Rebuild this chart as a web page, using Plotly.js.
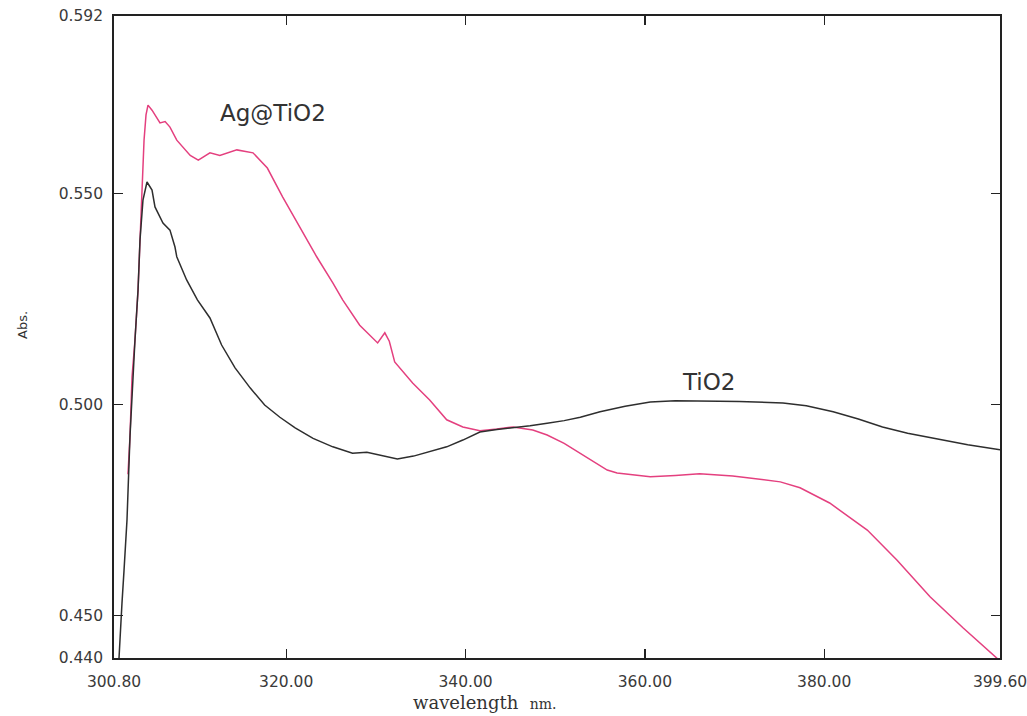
<!DOCTYPE html>
<html>
<head>
<meta charset="utf-8">
<script src="https://cdn.plot.ly/plotly-3.0.1.min.js"></script>
<style>
  html, body { margin: 0; padding: 0; background: #fff; }
  #chart { width: 1027px; height: 716px; }
</style>
</head>
<body>
<div id="chart"></div>
<script>
// UV-Vis absorbance spectra, wavelength in nm
const tio2Wavelength = [
  301.36, 301.47, 301.69, 301.92, 302.25, 302.58, 302.92, 303.14, 303.48, 303.70,
  304.03, 304.48, 305.04, 305.37, 306.26, 307.04, 307.60, 307.80, 308.90, 310.10,
  311.50, 312.80, 314.30, 316.00, 317.60, 319.30, 321.00, 323.00, 325.20, 327.40,
  329.00, 330.80, 332.40, 334.20, 336.00, 337.90, 339.70, 341.60, 343.50, 345.30,
  347.20, 349.10, 351.00, 352.80, 355.00, 357.80, 360.60, 363.40, 366.10, 368.30,
  370.50, 373.00, 375.40, 378.00, 381.00, 383.80, 386.50, 389.30, 392.10, 396.00,
  399.60
];
const tio2Abs = [
  0.4400, 0.4450, 0.4530, 0.4608, 0.4727, 0.4923, 0.5082, 0.5153, 0.5271, 0.5390,
  0.5484, 0.5527, 0.5508, 0.5468, 0.5430, 0.5413, 0.5373, 0.5350, 0.5295, 0.5248,
  0.5205, 0.5141, 0.5087, 0.5039, 0.4999, 0.4970, 0.4945, 0.4920, 0.4900, 0.4885,
  0.4887, 0.4878, 0.4871, 0.4878, 0.4888, 0.4900, 0.4916, 0.4935, 0.4941, 0.4945,
  0.4950, 0.4956, 0.4962, 0.4970, 0.4983, 0.4996, 0.5006, 0.5009, 0.5009, 0.5008,
  0.5007, 0.5006, 0.5004, 0.4997, 0.4983, 0.4966, 0.4947, 0.4932, 0.4920, 0.4905,
  0.4893
];

const agTio2Wavelength = [
  302.36, 302.58, 302.81, 303.14, 303.48, 303.70, 303.92, 304.15, 304.37, 304.59,
  305.04, 305.60, 305.93, 306.50, 307.04, 307.80, 309.30, 310.20, 311.50, 312.60,
  314.50, 316.30, 317.90, 319.60, 321.50, 323.40, 325.20, 326.30, 328.20, 330.20,
  331.00, 331.50, 332.10, 334.10, 336.00, 337.90, 339.70, 341.60, 343.50, 345.30,
  347.50, 349.10, 351.00, 352.80, 355.80, 356.90, 360.60, 363.40, 366.10, 369.80,
  373.60, 375.10, 377.30, 380.60, 384.80, 388.10, 391.80, 395.50, 399.60
];
const agTio2Abs = [
  0.4835, 0.4923, 0.5065, 0.5153, 0.5271, 0.5390, 0.5508, 0.5626, 0.5686, 0.5709,
  0.5697, 0.5679, 0.5667, 0.5670, 0.5657, 0.5626, 0.5590, 0.5579, 0.5596, 0.5590,
  0.5603, 0.5596, 0.5560, 0.5492, 0.5420, 0.5350, 0.5288, 0.5248, 0.5188, 0.5146,
  0.5170, 0.5150, 0.5101, 0.5051, 0.5011, 0.4964, 0.4947, 0.4938, 0.4942, 0.4947,
  0.4940, 0.4928, 0.4908, 0.4885, 0.4845, 0.4838, 0.4829, 0.4832, 0.4836, 0.4831,
  0.4822, 0.4817, 0.4803, 0.4767, 0.4703, 0.4632, 0.4545, 0.4471, 0.4393
];

const xTickVals = [300.8, 320, 340, 360, 380, 399.6];
const xTickText = ['300.80', '320.00', '340.00', '360.00', '380.00', '399.60'];
const yTickVals = [0.440, 0.450, 0.500, 0.550, 0.592];
const yTickText = ['0.440', '0.450', '0.500', '0.550', '0.592'];

const seriesLabels = ['Ag@TiO2', 'TiO2'];

const traces = [
  {
    x: agTio2Wavelength, y: agTio2Abs, name: seriesLabels[0],
    type: 'scatter', mode: 'lines',
    line: { color: '#e4407f', width: 1.5 }
  },
  {
    x: tio2Wavelength, y: tio2Abs, name: seriesLabels[1],
    type: 'scatter', mode: 'lines',
    line: { color: '#2e2e2e', width: 1.5 }
  }
];

const sans = 'DejaVu Sans, Verdana, sans-serif';
const tickFont = { family: sans, size: 15.5, color: '#3a3a3a' };

const layout = {
  width: 1027, height: 716,
  margin: { l: 114, r: 27, t: 16, b: 58 },
  paper_bgcolor: '#ffffff', plot_bgcolor: '#ffffff',
  showlegend: false,
  xaxis: {
    range: [300.8, 399.6],
    tickmode: 'array', tickvals: xTickVals, ticktext: xTickText,
    ticks: 'inside', ticklen: 9, tickwidth: 1.3, tickcolor: '#222',
    showline: true, linecolor: '#222', linewidth: 1.8, mirror: 'ticks',
    showgrid: false, zeroline: false,
    tickfont: tickFont, ticklabelstandoff: 9, ticklabeloverflow: 'allow'
  },
  yaxis: {
    range: [0.440, 0.592],
    tickmode: 'array', tickvals: yTickVals, ticktext: yTickText,
    ticks: 'inside', ticklen: 9, tickwidth: 1.3, tickcolor: '#222',
    showline: true, linecolor: '#222', linewidth: 1.8, mirror: 'ticks',
    showgrid: false, zeroline: false,
    tickfont: tickFont, ticklabelstandoff: 6, ticklabeloverflow: 'allow'
  },
  annotations: [
    {
      text: seriesLabels[0], x: 318.5, y: 0.5690, xref: 'x', yref: 'y',
      xanchor: 'center', yanchor: 'middle', showarrow: false,
      font: { family: sans, size: 23, color: '#333' }
    },
    {
      text: seriesLabels[1], x: 367.1, y: 0.5053, xref: 'x', yref: 'y',
      xanchor: 'center', yanchor: 'middle', showarrow: false,
      font: { family: sans, size: 23, color: '#333' }
    },
    {
      text: 'wavelength  <span style="font-size:14px">nm.</span>',
      x: 485, y: 702, xref: 'paper', yref: 'paper', showarrow: false,
      xanchor: 'center', yanchor: 'middle',
      font: { family: 'DejaVu Serif, serif', size: 18, color: '#333' }
    },
    {
      text: 'Abs.', x: 22, y: 325, xref: 'paper', yref: 'paper', textangle: -90,
      xanchor: 'center', yanchor: 'middle', showarrow: false,
      font: { family: sans, size: 13, color: '#333' }
    }
  ]
};

// titles given in pixels are converted to paper coordinates
const plotW = 1027 - 114 - 27, plotH = 716 - 16 - 58;
layout.annotations.forEach(a => {
  if (a.xref === 'paper') {
    a.x = (a.x - 114) / plotW;
    a.y = 1 - (a.y - 16) / plotH;
  }
});

Plotly.newPlot('chart', traces, layout, { displayModeBar: false, staticPlot: true });
</script>
</body>
</html>
